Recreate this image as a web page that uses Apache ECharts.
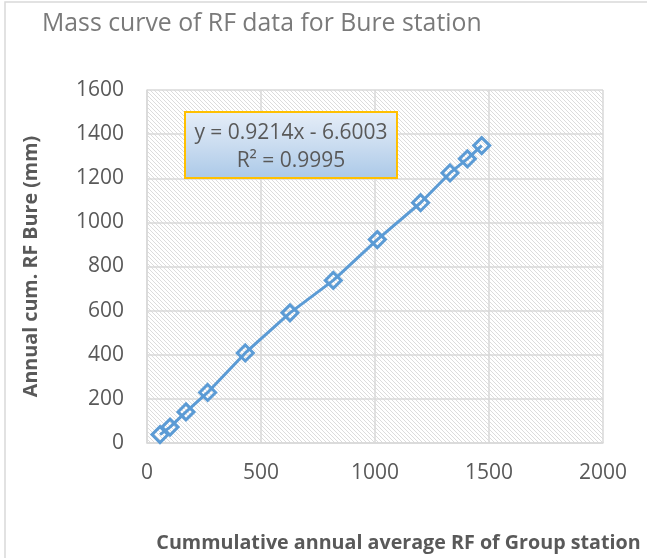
<!DOCTYPE html>
<html>
<head>
<meta charset="utf-8">
<script src="https://cdn.jsdelivr.net/npm/echarts@6/dist/echarts.min.js"></script>
<style>
  * { margin: 0; padding: 0; }
  html, body { background: #fff; }
  #chart { width: 647px; height: 558px; }
</style>
</head>
<body>
<div id="chart"></div>
<script>
  // cumulative annual average RF of group station (x) vs cumulative RF at Bure (y)
  const groupCum = [57, 101, 171, 266, 431, 627, 817, 1010, 1200, 1329, 1405, 1468]
  const bureCum = [38, 72, 141, 229, 408, 590, 737, 922, 1089, 1224, 1288, 1348]
  const xTicks = [0, 500, 1000, 1500, 2000]
  const yTicks = [0, 200, 400, 600, 800, 1000, 1200, 1400, 1600]
  const trendText = ['y = 0.9214x - 6.6003', 'R² = 0.9995']

  const font = 'Open Sans, sans-serif'

  // diagonal hatch for the plot area
  function hatch() {
    let c = document.createElement('canvas')
    c.width = 4
    c.height = 4
    let ctx = c.getContext('2d')
    ctx.fillStyle = '#ffffff'
    ctx.fillRect(0, 0, 4, 4)
    ctx.strokeStyle = '#dcdcdc'
    ctx.lineWidth = 1
    ctx.beginPath()
    ctx.moveTo(-1, -1)
    ctx.lineTo(5, 5)
    ctx.moveTo(-1, 3)
    ctx.lineTo(1, 5)
    ctx.moveTo(3, -1)
    ctx.lineTo(5, 1)
    ctx.stroke()
    return c
  }

  let myChart = echarts.init(document.getElementById('chart'))
  myChart.setOption({
    animation: false,
    backgroundColor: '#ffffff',
    title: {
      text: 'Mass curve of RF data for Bure station',
      left: 37,
      top: 6,
      textStyle: {
        fontFamily: font,
        fontWeight: 'normal',
        fontSize: 24.8,
        color: '#7a7a7a'
      }
    },
    grid: {
      left: 147,
      right: 44,
      top: 90,
      bottom: 115,
      show: true,
      borderWidth: 0,
      backgroundColor: {image: hatch(), repeat: 'repeat'}
    },
    xAxis: {
      type: 'value',
      min: xTicks[0],
      max: xTicks[xTicks.length - 1],
      interval: 500,
      name: 'Cummulative annual average RF of Group station',
      nameLocation: 'middle',
      nameGap: 90,
      nameTextStyle: {
        fontFamily: font,
        fontWeight: 'bold',
        fontSize: 19.7,
        color: '#595959',
        padding: [0, 0, 0, 47]
      },
      axisLine: {show: true, lineStyle: {color: '#d9d9d9', width: 1.5}},
      axisTick: {show: false},
      axisLabel: {
        margin: 20,
        fontFamily: font,
        fontSize: 21,
        color: '#595959',
        formatter: v => String(v)
      },
      splitLine: {show: true, lineStyle: {color: '#d9d9d9', width: 1.5}}
    },
    yAxis: {
      type: 'value',
      min: yTicks[0],
      max: yTicks[yTicks.length - 1],
      interval: 200,
      name: 'Annual cum. RF Bure (mm)',
      nameLocation: 'middle',
      nameGap: 106,
      nameTextStyle: {
        fontFamily: font,
        fontWeight: 'bold',
        fontSize: 19.7,
        color: '#595959'
      },
      axisLine: {show: true, lineStyle: {color: '#d9d9d9', width: 1.5}},
      axisTick: {show: false},
      axisLabel: {
        margin: 23,
        fontFamily: font,
        fontSize: 21,
        color: '#595959',
        formatter: v => String(v)
      },
      splitLine: {show: true, lineStyle: {color: '#d9d9d9', width: 1.5}}
    },
    graphic: [
      {
        type: 'rect',
        shape: {x: 5, y: 2, width: 660, height: 580},
        style: {fill: 'none', stroke: '#d9d9d9', lineWidth: 1.5},
        silent: true
      },
      {
        type: 'group',
        left: 184,
        top: 111,
        z: 100,
        children: [
          {
            type: 'rect',
            z: 100,
            shape: {x: 0, y: 0, width: 212, height: 66},
            style: {
              fill: new echarts.graphic.LinearGradient(0, 0, 0, 1, [
                {offset: 0, color: '#e6eef8'},
                {offset: 0.5, color: '#cadcf0'},
                {offset: 1, color: '#abc9e8'}
              ]),
              stroke: '#ffc000',
              lineWidth: 2
            }
          },
          {
            type: 'text',
            z: 101,
            x: 106,
            y: 21,
            style: {
              text: trendText[0],
              fontFamily: font,
              fontSize: 21,
              fill: '#595959',
              align: 'center',
              verticalAlign: 'middle'
            }
          },
          {
            type: 'text',
            z: 101,
            x: 106,
            y: 49,
            style: {
              text: trendText[1],
              fontFamily: font,
              fontSize: 21,
              fill: '#595959',
              align: 'center',
              verticalAlign: 'middle'
            }
          }
        ]
      }
    ],
    series: [
      {
        type: 'line',
        data: groupCum.map((x, i) => [x, bureCum[i]]),
        symbol: 'diamond',
        symbolSize: 16,
        showAllSymbol: true,
        lineStyle: {color: '#5b9bd5', width: 3},
        itemStyle: {color: 'rgba(255,255,255,0)', borderColor: '#5b9bd5', borderWidth: 3},
        z: 3
      }
    ]
  })
</script>
</body>
</html>
